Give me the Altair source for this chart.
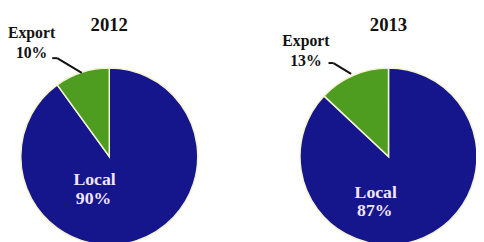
import altair as alt
import pandas as pd
import math

years = ["2012", "2013"]
categories = ["Local", "Export"]
local_share = [90, 87]
export_share = [10, 13]

rows = []
for i, y in enumerate(years):
    rows.append({"year": y, "category": "Local", "value": local_share[i], "order": 0,
                 "pct": f"{local_share[i]}%"})
    rows.append({"year": y, "category": "Export", "value": export_share[i], "order": 1,
                 "pct": f"{export_share[i]}%"})
df = pd.DataFrame(rows)

FONT = "Liberation Serif"
xscale = alt.Scale(type="point", domain=years, range=[103, 387], padding=0)
X = alt.X("year:N", scale=xscale, axis=None)
CY = 149

base = alt.Chart(df)

pie = base.transform_stack(
    stack="value", groupby=["year"], as_=["v0", "v1"], sort=[alt.SortField("order", "ascending")]
).mark_arc(radius=90, stroke="#f4f4d0", strokeWidth=1.5).encode(
    x=X,
    y=alt.value(CY),
    theta=alt.Theta("v0:Q", scale=alt.Scale(domain=[0, 100], range=[0, 2 * math.pi])),
    theta2="v1:Q",
    color=alt.Color("category:N", scale=alt.Scale(domain=categories, range=["#15158c", "#4e9c20"]), legend=None),
)

layers = [pie]

# per-year label offsets (style)
local_off = {"2012": (-15, 24), "2013": (-13, 37)}
export_off = {"2012": (-79, -125), "2013": (-84, -117)}

for y in years:
    sub = base.transform_filter(alt.datum.year == y)
    layers.append(
        sub.transform_filter(alt.datum.category == "Local").mark_text(
            font=FONT, fontWeight="bold", fontSize=19, color="#111111",
            baseline="middle").encode(x=X, y=alt.value(15), text="year:N")
    )
    ldx, ldy = local_off[y]
    layers.append(
        sub.transform_filter(alt.datum.category == "Local").mark_text(
            font=FONT, fontWeight="bold", fontSize=18, color="#f2e6ff",
            dx=ldx, dy=ldy, baseline="middle").encode(
            x=X, y=alt.value(CY), text="category:N")
    )
    layers.append(
        sub.transform_filter(alt.datum.category == "Local").mark_text(
            font=FONT, fontWeight="bold", fontSize=18, color="#f2e6ff",
            dx=ldx - 1, dy=ldy + 19, baseline="middle").encode(
            x=X, y=alt.value(CY), text="pct:N")
    )
    edx, edy = export_off[y]
    layers.append(
        sub.transform_filter(alt.datum.category == "Export").mark_text(
            font=FONT, fontWeight="bold", fontSize=16, color="#111111",
            dx=edx, dy=edy, baseline="middle").encode(
            x=X, y=alt.value(CY), text="category:N")
    )
    layers.append(
        sub.transform_filter(alt.datum.category == "Export").mark_text(
            font=FONT, fontWeight="bold", fontSize=16, color="#111111",
            dx=edx, dy=edy + 20, baseline="middle").encode(
            x=X, y=alt.value(CY), text="pct:N")
    )

# leader lines (annotations)
leaders = [
    ((45, 49), (50, 49)),
    ((50, 49), (75, 64)),
    ((326, 54), (331, 54)),
    ((331, 54), (349, 65)),
]
for (x1, y1), (x2, y2) in leaders:
    layers.append(
        alt.Chart(df).transform_filter(alt.datum.order == 0).transform_filter(alt.datum.year == "2012")
        .mark_rule(color="#111111", strokeWidth=2).encode(
            x=alt.value(x1), y=alt.value(y1), x2=alt.value(x2), y2=alt.value(y2))
    )

chart = alt.layer(*layers).properties(
    width=476, height=234, padding=0, autosize=alt.AutoSizeParams(type="none")
).configure_view(stroke=None)

chart.save("out.html", embed_options={"renderer": "svg", "actions": False})
